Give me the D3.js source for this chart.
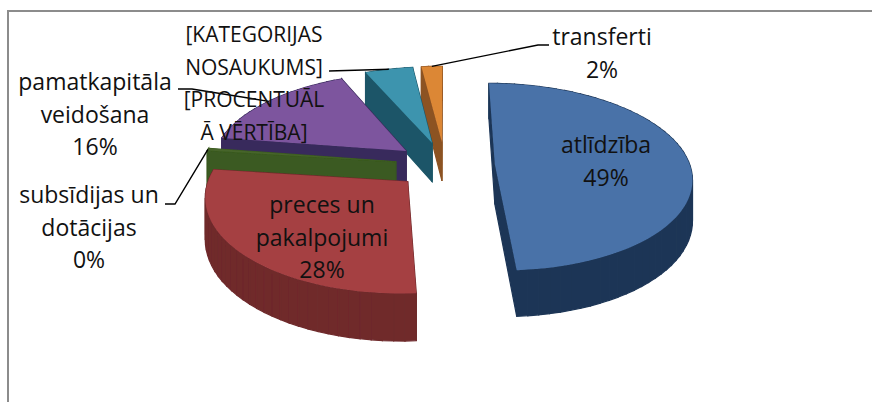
<!DOCTYPE html>
<html>
<head>
<meta charset="utf-8">
<script src="https://cdn.jsdelivr.net/npm/d3@7"></script>
<style>
  html, body { margin: 0; padding: 0; background: #fff; }
  text { font-family: "Open Sans", Lato, sans-serif; font-size: 23px; fill: #111; }
  text.placeholder { font-size: 21px; }
</style>
</head>
<body>
<div id="chart"></div>
<script>
// slices, clockwise from 12 o'clock
const categories = ["atlīdzība", "preces un pakalpojumi", "subsīdijas un dotācijas", "pamatkapitāla veidošana", "[KATEGORIJAS NOSAUKUMS]", "transferti"];
const values = [49, 28, 0.4, 16, 4.6, 2];
const topColors = ["#4872a8", "#a53f42", "#46652a", "#7d559e", "#3d94ae", "#dc8735"];
const wallColors = ["#1d3657", "#6f2a2c", "#3a5a20", "#392a5c", "#1b5567", "#8c5222"];

// label text per slice, line by line
const labelLines = [
  ["atlīdzība", "49%"],
  ["preces un", "pakalpojumi", "28%"],
  ["subsīdijas un", "dotācijas", "0%"],
  ["pamatkapitāla", "veidošana", "16%"],
  ["[KATEGORIJAS", "NOSAUKUMS]", "[PROCENTUĀL", "Ā VĒRTĪBA]"],
  ["transferti", "2%"]
];
// centre x and first baseline of each label
const labelX = [606, 322, 89, 95, 254, 602];
const labelY = [153, 213, 203, 90, 42, 45];
// elbow of the leader line: start at label, then bend (null = no leader)
const leaderStart = [null, null, [165, 204], [178, 89], [329, 71], [549, 45]];
const leaderBend = [null, null, [175, 204], [192, 89], [329, 71], [538, 45]];

const width = 872, height = 402;
const cx = 445, cy = 165, radius = 195, radiusY = 92;
const perspective = 0.135, explode = 0.256, depth = 40;
const lineHeight = 32.5;

const svg = d3.select("#chart").append("svg")
    .attr("width", width)
    .attr("height", height)
    .style("display", "block");

svg.append("defs").append("filter")
    .attr("id", "soft")
  .append("feGaussianBlur")
    .attr("stdDeviation", 0.6);

// frame only shows on top and left
svg.append("path")
    .attr("d", `M8,402V11H872`)
    .attr("fill", "none")
    .attr("stroke", "#8c8c8c")
    .attr("stroke-width", 2);

const pie = d3.pie().sort(null).value(d => d);
const arcs = pie(values);

// plane coordinates (u right, v away from viewer) to screen
function project(u, v, z) {
  const p = 1 / (1 + perspective * v);
  return [cx + u * radius * p, cy - v * radiusY * p + z * p];
}

function slicePoints(d) {
  const mid = (d.startAngle + d.endAngle) / 2;
  const ou = explode * Math.sin(mid), ov = explode * Math.cos(mid);
  const steps = Math.max(2, Math.ceil((d.endAngle - d.startAngle) / 0.05));
  const pts = [[ou, ov]];
  d3.range(steps + 1).forEach(i => {
    const a = d.startAngle + (d.endAngle - d.startAngle) * i / steps;
    pts.push([ou + Math.sin(a), ov + Math.cos(a)]);
  });
  return pts;
}

const pathLine = d3.line();
const order = [5, 4, 3, 2, 1, 0];
const gSlices = svg.append("g").attr("filter", "url(#soft)");

order.forEach(i => {
  const pts = slicePoints(arcs[i]);
  const g = gSlices.append("g").attr("class", "slice");

  // walls, back to front
  const walls = pts.map((p, k) => [p, pts[(k + 1) % pts.length]])
    .sort((a, b) => (b[0][1] + b[1][1]) - (a[0][1] + a[1][1]));
  walls.forEach(([a, b]) => {
    const quad = [
      project(a[0], a[1], 0), project(b[0], b[1], 0),
      project(b[0], b[1], depth), project(a[0], a[1], depth)
    ];
    g.append("path")
        .attr("d", pathLine(quad) + "Z")
        .attr("fill", wallColors[i])
        .attr("stroke", wallColors[i])
        .attr("stroke-width", 1.2);
  });

  g.append("path")
      .attr("d", pathLine(pts.map(p => project(p[0], p[1], 0))) + "Z")
      .attr("fill", topColors[i]);
});

// leader lines end on the middle of the rim
arcs.forEach((d, i) => {
  if (!leaderStart[i]) return;
  const mid = (d.startAngle + d.endAngle) / 2;
  const k = 1 + explode;
  const end = project(k * Math.sin(mid), k * Math.cos(mid), 0);
  svg.append("path")
      .attr("d", pathLine([leaderStart[i], leaderBend[i], end]))
      .attr("fill", "none")
      .attr("stroke", "#000")
      .attr("stroke-width", 1.4);
});

labelLines.forEach((lines, i) => {
  const t = svg.append("text")
      .attr("class", lines.length > 3 ? "placeholder" : null)
      .attr("text-anchor", "middle")
      .attr("y", labelY[i]);
  lines.forEach((s, k) => {
    t.append("tspan")
        .attr("x", labelX[i])
        .attr("y", labelY[i] + k * lineHeight)
        .text(s);
  });
});
</script>
</body>
</html>
